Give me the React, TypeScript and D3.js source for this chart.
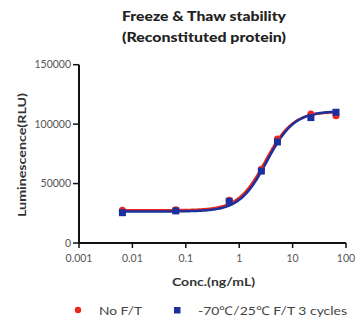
import React from "react";
import * as d3 from "d3";

const concentrations = [0.0065, 0.065, 0.65, 2.6, 5.2, 22, 65];
const noFT = [27500, 28000, 36000, 62000, 87500, 108500, 107000];
const ftCycles = [25500, 27000, 35000, 60500, 85000, 105500, 110000];
// 4PL fit parameters [bottom, top, EC50, hill]
const fitNoFT = [27500, 110500, 3.1, 1.7];
const fitFT = [26500, 111000, 3.3, 1.7];
const xTicks = [0.001, 0.01, 0.1, 1, 10, 100];
const xTickLabels = ["0.001", "0.01", "0.1", "1", "10", "100"];
const yTicks = [0, 50000, 100000, 150000];
const titleLines = ["Freeze & Thaw stability", "(Reconstituted protein)"];
const legendLabels = ["No F/T", "-70\u2103/25\u2103  F/T 3 cycles"];

const RED = "#e8281e";
const BLUE = "#1c2f9c";
const FONT = "Lato, 'Open Sans', sans-serif";

export default function App() {
  const x = d3.scaleLog().domain([0.001, 100]).range([79, 346]);
  const y = d3.scaleLinear().domain([0, 150000]).range([243, 64.7]);

  const fourPL = (p: number[]) => (c: number) =>
    p[0] + (p[1] - p[0]) / (1 + Math.pow(p[2] / c, p[3]));

  const xs = d3.range(0, 201).map((i) => {
    const lo = Math.log10(concentrations[0]);
    const hi = Math.log10(concentrations[concentrations.length - 1]);
    return Math.pow(10, lo + ((hi - lo) * i) / 200);
  });
  const line = d3
    .line<number[]>()
    .x((d) => x(d[0]))
    .y((d) => y(d[1]));
  const redPath = line(xs.map((c) => [c, fourPL(fitNoFT)(c)]));
  const bluePath = line(xs.map((c) => [c, fourPL(fitFT)(c)]));

  return (
    <svg
      width={357}
      height={321}
      style={{ position: "absolute", left: 0, top: 0, background: "#fff" }}
      fontFamily={FONT}
    >
      {titleLines.map((t, i) => (
        <text
          key={t}
          x={122}
          y={21 + i * 21}
          fontWeight="900"
          fontSize={14}
          fill="#222"
          textLength={164}
          lengthAdjust="spacingAndGlyphs"
        >
          {t}
        </text>
      ))}

      {/* axes */}
      <line x1={79} x2={79} y1={y(150000)} y2={y(0)} stroke="#111" strokeWidth={2} />
      <line x1={78} x2={x(100)} y1={y(0)} y2={y(0)} stroke="#111" strokeWidth={2} />
      {yTicks.map((t) => (
        <g key={t}>
          <line x1={73} x2={79} y1={y(t)} y2={y(t)} stroke="#111" strokeWidth={1.5} />
          <text x={71} y={y(t) + 3.5} textAnchor="end" fontSize={10.5} fill="#555">
            {t}
          </text>
        </g>
      ))}
      {xTicks.map((t, i) => (
        <g key={t}>
          <line x1={x(t)} x2={x(t)} y1={243} y2={248} stroke="#111" strokeWidth={1.5} />
          <text x={x(t)} y={262} textAnchor="middle" fontSize={10.5} fill="#555">
            {xTickLabels[i]}
          </text>
        </g>
      ))}
      <text
        transform="translate(26,155) rotate(-90)"
        textAnchor="middle"
        fontWeight="bold"
        fontSize={12}
        fill="#333"
        textLength={124}
        lengthAdjust="spacingAndGlyphs"
      >
        Luminescence(RLU)
      </text>
      <text
        x={172}
        y={286}
        fontWeight="bold"
        fontSize={12}
        fill="#333"
        textLength={83}
        lengthAdjust="spacingAndGlyphs"
      >
        Conc.(ng/mL)
      </text>

      {/* curves */}
      <path d={redPath ?? ""} fill="none" stroke={RED} strokeWidth={2.5} />
      <path d={bluePath ?? ""} fill="none" stroke={BLUE} strokeWidth={2.5} />
      {concentrations.map((c, i) => (
        <circle key={"r" + i} cx={x(c)} cy={y(noFT[i])} r={3.5} fill={RED} />
      ))}
      {concentrations.map((c, i) => (
        <rect
          key={"b" + i}
          x={x(c) - 3.5}
          y={y(ftCycles[i]) - 3.5}
          width={7}
          height={7}
          fill={BLUE}
        />
      ))}

      {/* legend */}
      <circle cx={78} cy={310} r={3.2} fill={RED} />
      <text
        x={99}
        y={314.5}
        fontSize={12}
        fill="#444"
        textLength={43}
        lengthAdjust="spacingAndGlyphs"
      >
        {legendLabels[0]}
      </text>
      <rect x={174} y={307} width={6.5} height={6.5} fill={BLUE} />
      <text
        x={198}
        y={314.5}
        fontSize={12}
        fill="#444"
        textLength={149}
        lengthAdjust="spacingAndGlyphs"
      >
        {legendLabels[1]}
      </text>
    </svg>
  );
}
